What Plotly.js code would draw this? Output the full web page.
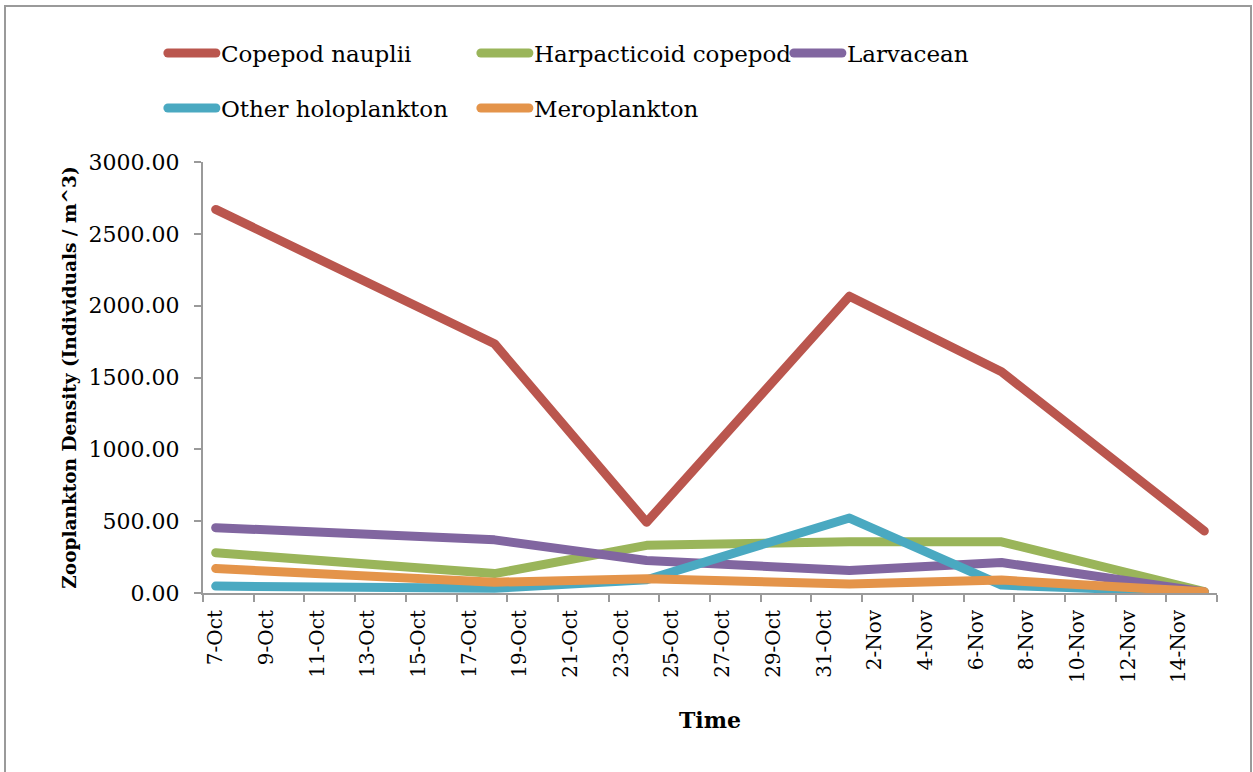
<!DOCTYPE html>
<html>
<head>
<meta charset="utf-8">
<script src="https://cdn.plot.ly/plotly-3.0.1.min.js"></script>
<style>
  body { margin: 0; background: #fff; }
  #chart { width: 1253px; height: 772px; }
  /* Excel draws the series with rounded ends and joints */
  #chart path.js-line { stroke-linecap: round; stroke-linejoin: round; }
  #chart .legend path.js-line { stroke-width: 9px !important; }
</style>
</head>
<body>
<div id="chart"></div>
<script>
// sampling dates (year is not shown on the chart)
const dates = ['2012-10-07', '2012-10-18', '2012-10-24', '2012-11-01', '2012-11-07', '2012-11-15'];

// densities, individuals / m^3
const copepodNauplii = [2670, 1735, 492, 2066, 1540, 432];
const harpacticoid = [280, 135, 332, 356, 356, 10];
const larvacean = [455, 370, 226, 156, 212, 8];
const otherHolo = [48, 33, 92, 522, 55, 4];
const meroplankton = [170, 75, 100, 62, 90, 8];

const seriesNames = ['Copepod nauplii', 'Harpacticoid copepod', 'Larvacean', 'Other holoplankton', 'Meroplankton'];
const seriesValues = [copepodNauplii, harpacticoid, larvacean, otherHolo, meroplankton];
const seriesColors = ['#BA564E', '#9AB55A', '#8166A0', '#4AA9C1', '#E4944A'];

const serif = 'DejaVu Serif, Liberation Serif, serif';

const traces = seriesNames.map(function(name, i) {
  return {
    x: dates,
    y: seriesValues[i],
    name: name,
    type: 'scatter',
    mode: 'lines',
    line: { color: seriesColors[i], width: 9 },
    legend: i < 3 ? 'legend' : 'legend2',
    hoverinfo: 'x+y+name'
  };
});

const legendBase = {
  orientation: 'h',
  xref: 'container',
  yref: 'container',
  x: 0.130,
  xanchor: 'left',
  yanchor: 'middle',
  entrywidth: 250,
  entrywidthmode: 'pixels',
  itemwidth: 48,
  bgcolor: 'rgba(0,0,0,0)',
  font: { family: serif, size: 23, color: '#000' }
};

const layout = {
  width: 1253,
  height: 772,
  margin: { l: 203, r: 36, t: 162, b: 179 },
  paper_bgcolor: '#fff',
  plot_bgcolor: '#fff',
  showlegend: true,
  legend: Object.assign({}, legendBase, { y: 1 - 53 / 772 }),
  legend2: Object.assign({}, legendBase, { y: 1 - 108 / 772 }),
  xaxis: {
    type: 'date',
    range: ['2012-10-06 12:00', '2012-11-15 12:00'],
    tick0: '2012-10-07',
    dtick: 172800000,
    tickformat: '%-d-%b',
    tickangle: -90,
    ticks: '',
    ticklabelstandoff: 7,
    showgrid: false,
    zeroline: false,
    showline: true,
    linecolor: '#9a9a9a',
    linewidth: 2,
    minor: {
      tick0: '2012-10-06 12:00',
      dtick: 172800000,
      ticks: 'outside',
      ticklen: 7,
      tickcolor: '#9a9a9a',
      tickwidth: 2,
      showgrid: false
    },
    tickfont: { family: serif, size: 20, color: '#000' },
    title: {
      text: '<b>Time</b>',
      font: { family: serif, size: 22, color: '#000' },
      standoff: 31
    }
  },
  yaxis: {
    range: [0, 3000],
    dtick: 500,
    tickformat: '.2f',
    ticks: 'outside',
    ticklen: 7,
    tickcolor: '#9a9a9a',
    tickwidth: 2,
    ticklabelstandoff: 10,
    showgrid: false,
    zeroline: false,
    showline: true,
    linecolor: '#9a9a9a',
    linewidth: 2,
    tickfont: { family: serif, size: 22, color: '#000' },
    title: {
      text: '<b>Zooplankton Density (Individuals / m^3)</b>',
      font: { family: serif, size: 18.5, color: '#000' },
      standoff: 7
    }
  },
  shapes: [{
    type: 'rect',
    xref: 'paper',
    yref: 'paper',
    x0: (5 - 203) / 1014,
    x1: (1251 - 203) / 1014,
    y0: -0.5,
    y1: (593 - 6) / 431,
    line: { color: '#9a9a9a', width: 2 },
    fillcolor: 'rgba(0,0,0,0)',
    layer: 'below'
  }]
};

Plotly.newPlot('chart', traces, layout, { displayModeBar: false, staticPlot: true });
</script>
</body>
</html>
